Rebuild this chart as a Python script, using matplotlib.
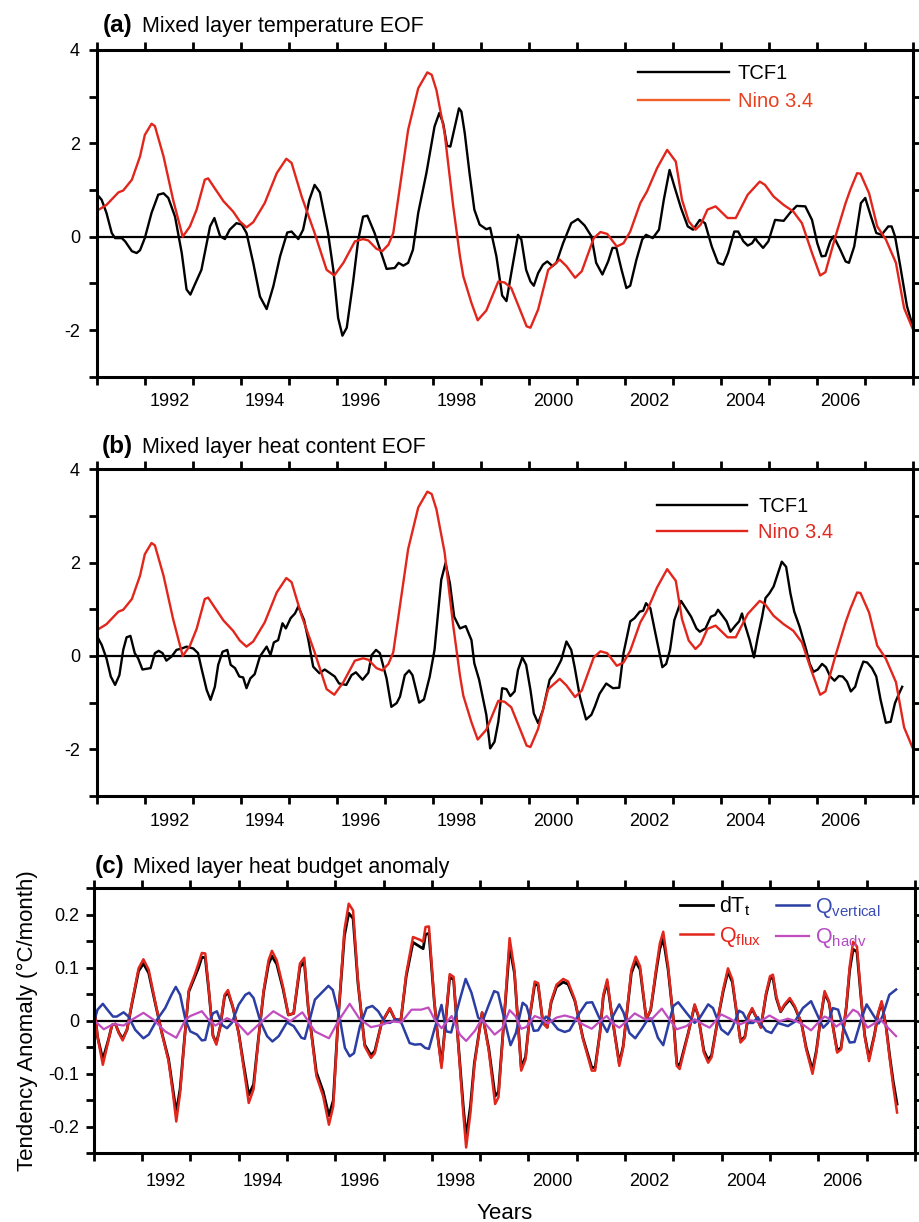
import numpy as np
import matplotlib
matplotlib.use('Agg')
import matplotlib.pyplot as plt

plt.rcParams['font.family'] = 'Liberation Sans'
plt.rcParams['mathtext.fontset'] = 'custom'
plt.rcParams['mathtext.rm'] = 'Liberation Sans'
plt.rcParams['mathtext.it'] = 'Liberation Sans:italic'

# ---- data (year, value) ----
nino34 = [(1991.00, 0.56), (1991.19, 0.68), (1991.44, 0.95), (1991.54, 0.99), (1991.72, 1.22),
          (1991.89, 1.72), (1991.99, 2.18), (1992.13, 2.42), (1992.20, 2.37), (1992.38, 1.72),
          (1992.58, 0.79), (1992.78, 0.00), (1992.93, 0.22), (1993.07, 0.58), (1993.24, 1.22),
          (1993.31, 1.25), (1993.42, 1.08), (1993.63, 0.76), (1993.83, 0.54), (1993.97, 0.33),
          (1994.11, 0.20), (1994.25, 0.31), (1994.49, 0.72), (1994.74, 1.36), (1994.94, 1.67),
          (1995.05, 1.58), (1995.26, 0.86), (1995.53, 0.08), (1995.78, -0.71), (1995.94, -0.83),
          (1996.13, -0.56), (1996.37, -0.10), (1996.54, -0.05), (1996.65, -0.08), (1996.82, -0.26),
          (1996.94, -0.31), (1997.07, -0.17), (1997.17, 0.08), (1997.31, 1.08), (1997.48, 2.29),
          (1997.69, 3.18), (1997.88, 3.52), (1997.97, 3.47), (1998.07, 3.14), (1998.24, 2.22),
          (1998.42, 0.65), (1998.56, -0.42), (1998.63, -0.85), (1998.80, -1.42), (1998.93, -1.79),
          (1999.11, -1.58), (1999.36, -0.96), (1999.49, -0.98), (1999.63, -1.10), (1999.81, -1.56),
          (1999.95, -1.92), (2000.03, -1.95), (2000.19, -1.56), (2000.40, -0.71), (2000.64, -0.49),
          (2000.78, -0.63), (2000.96, -0.88), (2001.10, -0.74), (2001.35, -0.03), (2001.49, 0.10),
          (2001.63, 0.06), (2001.83, -0.21), (2001.97, -0.14), (2002.11, 0.11), (2002.32, 0.72),
          (2002.46, 0.97), (2002.67, 1.47), (2002.88, 1.86), (2003.06, 1.61), (2003.19, 0.79),
          (2003.33, 0.33), (2003.47, 0.15), (2003.58, 0.26), (2003.72, 0.58), (2003.89, 0.65),
          (2004.00, 0.54), (2004.14, 0.40), (2004.31, 0.40), (2004.56, 0.90), (2004.81, 1.18),
          (2004.92, 1.11), (2005.10, 0.86), (2005.31, 0.68), (2005.51, 0.54), (2005.69, 0.29),
          (2005.90, -0.35), (2006.07, -0.83), (2006.18, -0.76), (2006.39, 0.01), (2006.60, 0.72),
          (2006.70, 1.01), (2006.84, 1.36), (2006.91, 1.35), (2007.09, 0.93), (2007.26, 0.22),
          (2007.44, -0.06), (2007.65, -0.56), (2007.82, -1.53), (2007.99, -1.95)]

tcf1_temp = [(1991.00, 0.90), (1991.09, 0.79), (1991.19, 0.51), (1991.30, 0.08), (1991.37, -0.03),
             (1991.51, -0.03), (1991.58, -0.10), (1991.72, -0.31), (1991.82, -0.35), (1991.89, -0.29),
             (1991.99, -0.03), (1992.13, 0.51), (1992.27, 0.90), (1992.38, 0.93), (1992.48, 0.83),
             (1992.62, 0.43), (1992.76, -0.35), (1992.86, -1.13), (1992.94, -1.24), (1993.03, -1.03),
             (1993.17, -0.71), (1993.24, -0.35), (1993.35, 0.22), (1993.44, 0.40), (1993.56, 0.01),
             (1993.66, -0.05), (1993.76, 0.15), (1993.90, 0.29), (1994.01, 0.26), (1994.11, 0.08),
             (1994.25, -0.56), (1994.39, -1.28), (1994.53, -1.55), (1994.67, -1.06), (1994.81, -0.42),
             (1994.96, 0.09), (1995.05, 0.11), (1995.19, -0.05), (1995.29, 0.15), (1995.42, 0.79),
             (1995.53, 1.11), (1995.64, 0.95), (1995.81, 0.08), (1995.92, -0.71), (1996.02, -1.74),
             (1996.11, -2.12), (1996.20, -1.95), (1996.33, -0.99), (1996.44, -0.06), (1996.54, 0.43),
             (1996.63, 0.45), (1996.78, 0.08), (1996.92, -0.35), (1997.03, -0.69), (1997.20, -0.67),
             (1997.28, -0.56), (1997.38, -0.62), (1997.48, -0.56), (1997.58, -0.28), (1997.69, 0.51),
             (1997.86, 1.36), (1998.03, 2.36), (1998.13, 2.65), (1998.21, 2.43), (1998.29, 1.95),
             (1998.36, 1.93), (1998.54, 2.75), (1998.59, 2.68), (1998.66, 2.22), (1998.76, 1.36),
             (1998.86, 0.58), (1998.97, 0.26), (1999.11, 0.16), (1999.19, 0.19), (1999.32, -0.42),
             (1999.44, -1.26), (1999.53, -1.38), (1999.63, -0.78), (1999.77, 0.04), (1999.84, -0.06),
             (1999.94, -0.71), (2000.03, -0.96), (2000.10, -1.05), (2000.19, -0.78), (2000.29, -0.60),
             (2000.38, -0.53), (2000.49, -0.63), (2000.57, -0.56), (2000.71, -0.14), (2000.88, 0.29),
             (2001.02, 0.38), (2001.16, 0.24), (2001.30, 0.01), (2001.40, -0.56), (2001.53, -0.81),
             (2001.65, -0.53), (2001.74, -0.24), (2001.82, -0.24), (2001.93, -0.71), (2002.03, -1.10),
             (2002.11, -1.05), (2002.24, -0.49), (2002.36, -0.06), (2002.44, 0.04), (2002.58, -0.03),
             (2002.71, 0.15), (2002.81, 0.79), (2002.93, 1.43), (2003.03, 1.08), (2003.17, 0.61),
             (2003.31, 0.22), (2003.42, 0.15), (2003.56, 0.36), (2003.67, 0.29), (2003.81, -0.21),
             (2003.94, -0.56), (2004.05, -0.60), (2004.15, -0.35), (2004.28, 0.11), (2004.36, 0.11),
             (2004.47, -0.10), (2004.56, -0.19), (2004.65, -0.14), (2004.72, -0.03), (2004.76, -0.10),
             (2004.88, -0.24), (2004.99, -0.10), (2005.13, 0.36), (2005.31, 0.34), (2005.45, 0.52),
             (2005.58, 0.66), (2005.76, 0.65), (2005.90, 0.36), (2006.01, -0.14), (2006.10, -0.42),
             (2006.18, -0.41), (2006.28, -0.10), (2006.35, 0.01), (2006.49, -0.28), (2006.60, -0.53),
             (2006.67, -0.56), (2006.78, -0.21), (2006.92, 0.72), (2007.01, 0.83), (2007.13, 0.43),
             (2007.24, 0.08), (2007.35, 0.04), (2007.49, 0.22), (2007.56, 0.22), (2007.63, 0.01),
             (2007.74, -0.63), (2007.88, -1.49), (2007.99, -1.88)]

tcf1_heat = [(1991.00, 0.41), (1991.09, 0.24), (1991.19, -0.05), (1991.28, -0.44), (1991.37, -0.62),
             (1991.46, -0.41), (1991.54, 0.13), (1991.61, 0.40), (1991.69, 0.43), (1991.78, 0.06),
             (1991.85, -0.05), (1991.94, -0.29), (1992.11, -0.26), (1992.20, 0.06), (1992.28, 0.11),
             (1992.36, 0.06), (1992.44, -0.10), (1992.55, -0.01), (1992.65, 0.13), (1992.76, 0.16),
             (1992.86, 0.20), (1993.00, 0.16), (1993.10, 0.06), (1993.17, -0.26), (1993.28, -0.73),
             (1993.36, -0.94), (1993.45, -0.66), (1993.52, -0.19), (1993.61, 0.09), (1993.71, 0.13),
             (1993.78, -0.19), (1993.87, -0.26), (1993.96, -0.44), (1994.04, -0.46), (1994.11, -0.69),
             (1994.19, -0.48), (1994.28, -0.39), (1994.39, -0.01), (1994.53, 0.20), (1994.61, 0.02),
             (1994.68, 0.29), (1994.77, 0.34), (1994.86, 0.70), (1994.93, 0.59), (1995.03, 0.81),
             (1995.12, 0.91), (1995.19, 1.06), (1995.31, 0.77), (1995.40, 0.34), (1995.50, -0.23),
             (1995.63, -0.37), (1995.74, -0.29), (1995.85, -0.37), (1995.95, -0.44), (1996.04, -0.59),
             (1996.19, -0.62), (1996.30, -0.41), (1996.39, -0.35), (1996.53, -0.51), (1996.65, -0.36),
             (1996.72, 0.02), (1996.81, 0.13), (1996.89, 0.06), (1997.03, -0.48), (1997.13, -1.09),
             (1997.24, -1.01), (1997.31, -0.87), (1997.41, -0.41), (1997.50, -0.31), (1997.57, -0.41),
             (1997.71, -1.00), (1997.81, -0.93), (1997.93, -0.44), (1998.03, 0.13), (1998.17, 1.63),
             (1998.26, 1.99), (1998.35, 1.56), (1998.44, 0.84), (1998.56, 0.59), (1998.68, 0.64),
             (1998.80, 0.34), (1998.86, -0.16), (1998.96, -0.51), (1999.11, -1.26), (1999.19, -1.98),
             (1999.28, -1.84), (1999.36, -1.41), (1999.44, -0.69), (1999.53, -0.71), (1999.61, -0.86),
             (1999.70, -0.76), (1999.77, -0.30), (1999.86, -0.03), (1999.94, -0.19), (2000.03, -0.73),
             (2000.10, -1.23), (2000.19, -1.44), (2000.29, -1.16), (2000.43, -0.51), (2000.53, -0.37),
             (2000.67, -0.09), (2000.78, 0.31), (2000.88, 0.13), (2000.95, -0.23), (2001.06, -0.87),
             (2001.19, -1.36), (2001.30, -1.26), (2001.37, -1.09), (2001.47, -0.81), (2001.61, -0.59),
             (2001.75, -0.69), (2001.88, -0.68), (2001.97, 0.06), (2002.11, 0.74), (2002.20, 0.81),
             (2002.31, 0.95), (2002.38, 0.97), (2002.44, 1.13), (2002.53, 1.02), (2002.62, 0.56),
             (2002.78, -0.24), (2002.86, -0.17), (2002.94, 0.13), (2003.03, 0.77), (2003.17, 1.18),
             (2003.28, 1.00), (2003.38, 0.84), (2003.49, 0.59), (2003.56, 0.52), (2003.68, 0.59),
             (2003.79, 0.84), (2003.88, 0.88), (2003.94, 0.99), (2004.05, 0.84), (2004.12, 0.74),
             (2004.20, 0.52), (2004.31, 0.66), (2004.38, 0.74), (2004.44, 0.91), (2004.49, 0.71),
             (2004.60, 0.34), (2004.69, -0.03), (2004.77, 0.41), (2004.86, 0.84), (2004.93, 1.24),
             (2005.01, 1.34), (2005.10, 1.49), (2005.19, 1.77), (2005.27, 2.02), (2005.36, 1.91),
             (2005.45, 1.34), (2005.53, 0.95), (2005.64, 0.63), (2005.78, 0.13), (2005.85, -0.16),
             (2005.93, -0.34), (2006.02, -0.29), (2006.11, -0.17), (2006.19, -0.24), (2006.28, -0.44),
             (2006.37, -0.53), (2006.46, -0.43), (2006.54, -0.44), (2006.63, -0.55), (2006.71, -0.76),
             (2006.80, -0.66), (2006.88, -0.37), (2006.97, -0.12), (2007.05, -0.14), (2007.15, -0.26),
             (2007.24, -0.44), (2007.33, -0.94), (2007.44, -1.43), (2007.54, -1.41), (2007.63, -1.01),
             (2007.70, -0.84), (2007.78, -0.66)]

q_flux = [(1991.00, 0.040), (1991.08, -0.030), (1991.19, -0.083), (1991.31, -0.036), (1991.38, -0.008),
          (1991.45, -0.006), (1991.52, -0.023), (1991.60, -0.037), (1991.69, -0.017), (1991.79, 0.033),
          (1991.93, 0.099), (1992.03, 0.116), (1992.14, 0.096), (1992.28, 0.033), (1992.41, -0.023),
          (1992.55, -0.076), (1992.64, -0.136), (1992.71, -0.190), (1992.79, -0.136), (1992.88, -0.036),
          (1992.97, 0.058), (1993.10, 0.089), (1993.17, 0.108), (1993.24, 0.128), (1993.31, 0.127),
          (1993.38, 0.064), (1993.47, -0.029), (1993.54, -0.045), (1993.62, -0.011), (1993.71, 0.049),
          (1993.78, 0.058), (1993.88, 0.027), (1994.00, -0.023), (1994.10, -0.086), (1994.21, -0.155),
          (1994.31, -0.129), (1994.41, -0.036), (1994.52, 0.058), (1994.62, 0.114), (1994.69, 0.132),
          (1994.79, 0.114), (1994.92, 0.064), (1995.03, 0.011), (1995.14, 0.014), (1995.27, 0.108),
          (1995.36, 0.119), (1995.44, 0.027), (1995.61, -0.104), (1995.75, -0.142), (1995.87, -0.196),
          (1995.96, -0.161), (1996.06, 0.002), (1996.19, 0.171), (1996.28, 0.221), (1996.37, 0.208),
          (1996.47, 0.077), (1996.61, -0.048), (1996.74, -0.070), (1996.82, -0.061), (1996.96, -0.004),
          (1997.13, 0.024), (1997.24, 0.002), (1997.36, 0.002), (1997.47, 0.089), (1997.61, 0.158),
          (1997.75, 0.153), (1997.82, 0.149), (1997.87, 0.177), (1997.94, 0.178), (1998.05, 0.039),
          (1998.12, -0.029), (1998.20, -0.089), (1998.30, 0.014), (1998.37, 0.088), (1998.45, 0.083),
          (1998.54, -0.036), (1998.65, -0.173), (1998.71, -0.239), (1998.80, -0.173), (1998.88, -0.085),
          (1999.04, 0.016), (1999.18, -0.057), (1999.31, -0.157), (1999.38, -0.144), (1999.47, -0.029),
          (1999.61, 0.156), (1999.71, 0.096), (1999.85, -0.094), (1999.94, -0.073), (2000.02, 0.003),
          (2000.13, 0.074), (2000.20, 0.071), (2000.30, -0.004), (2000.39, -0.013), (2000.47, 0.037),
          (2000.58, 0.068), (2000.72, 0.079), (2000.82, 0.074), (2000.96, 0.040), (2001.13, -0.035),
          (2001.31, -0.094), (2001.38, -0.094), (2001.48, -0.023), (2001.55, 0.049), (2001.63, 0.078),
          (2001.72, 0.015), (2001.88, -0.085), (2001.96, -0.051), (2002.13, 0.096), (2002.22, 0.121),
          (2002.31, 0.103), (2002.44, 0.003), (2002.53, 0.021), (2002.65, 0.103), (2002.72, 0.146),
          (2002.79, 0.168), (2002.89, 0.103), (2003.00, 0.003), (2003.07, -0.085), (2003.13, -0.091),
          (2003.31, -0.023), (2003.44, 0.031), (2003.51, 0.012), (2003.63, -0.060), (2003.72, -0.079),
          (2003.79, -0.069), (2003.92, 0.003), (2004.03, 0.059), (2004.13, 0.099), (2004.22, 0.078),
          (2004.31, 0.015), (2004.39, -0.041), (2004.48, -0.032), (2004.55, 0.009), (2004.63, 0.024),
          (2004.72, 0.006), (2004.81, -0.013), (2004.92, 0.053), (2005.00, 0.084), (2005.06, 0.087),
          (2005.13, 0.046), (2005.22, 0.018), (2005.30, 0.031), (2005.41, 0.043), (2005.51, 0.028),
          (2005.65, -0.004), (2005.75, -0.054), (2005.88, -0.100), (2005.96, -0.060), (2006.05, 0.006),
          (2006.13, 0.056), (2006.22, 0.037), (2006.30, -0.010), (2006.39, -0.060), (2006.47, -0.054),
          (2006.58, 0.028), (2006.65, 0.103), (2006.72, 0.149), (2006.80, 0.140), (2006.89, 0.040),
          (2006.96, -0.029), (2007.05, -0.076), (2007.16, -0.029), (2007.24, 0.015), (2007.31, 0.037),
          (2007.40, -0.010), (2007.48, -0.073), (2007.55, -0.123), (2007.63, -0.173)]

dT_t = [(1991.00, 0.035), (1991.08, -0.030), (1991.19, -0.073), (1991.31, -0.034), (1991.38, -0.008),
        (1991.45, -0.006), (1991.52, -0.022), (1991.60, -0.034), (1991.69, -0.017), (1991.79, 0.031),
        (1991.93, 0.094), (1992.03, 0.108), (1992.14, 0.090), (1992.28, 0.031), (1992.41, -0.022),
        (1992.55, -0.072), (1992.64, -0.128), (1992.71, -0.173), (1992.79, -0.128), (1992.88, -0.034),
        (1992.97, 0.055), (1993.10, 0.084), (1993.17, 0.100), (1993.24, 0.120), (1993.31, 0.119),
        (1993.38, 0.060), (1993.47, -0.028), (1993.54, -0.042), (1993.62, -0.011), (1993.71, 0.046),
        (1993.78, 0.054), (1993.88, 0.026), (1994.00, -0.022), (1994.10, -0.080), (1994.21, -0.140),
        (1994.31, -0.120), (1994.41, -0.034), (1994.52, 0.055), (1994.62, 0.107), (1994.69, 0.122),
        (1994.79, 0.107), (1994.92, 0.060), (1995.03, 0.011), (1995.14, 0.014), (1995.27, 0.101),
        (1995.36, 0.111), (1995.44, 0.026), (1995.61, -0.097), (1995.75, -0.133), (1995.87, -0.179),
        (1995.96, -0.150), (1996.06, 0.002), (1996.19, 0.160), (1996.28, 0.203), (1996.37, 0.193),
        (1996.47, 0.072), (1996.61, -0.045), (1996.74, -0.065), (1996.82, -0.057), (1996.96, -0.004),
        (1997.13, 0.023), (1997.24, 0.002), (1997.36, 0.002), (1997.47, 0.084), (1997.61, 0.148),
        (1997.75, 0.140), (1997.82, 0.136), (1997.87, 0.163), (1997.94, 0.165), (1998.05, 0.037),
        (1998.12, -0.027), (1998.20, -0.083), (1998.30, 0.013), (1998.37, 0.082), (1998.45, 0.078),
        (1998.54, -0.034), (1998.65, -0.160), (1998.71, -0.220), (1998.80, -0.160), (1998.88, -0.080),
        (1999.04, 0.015), (1999.18, -0.053), (1999.31, -0.142), (1999.38, -0.134), (1999.47, -0.027),
        (1999.61, 0.140), (1999.71, 0.090), (1999.85, -0.088), (1999.94, -0.068), (2000.02, 0.003),
        (2000.13, 0.069), (2000.20, 0.067), (2000.30, -0.004), (2000.39, -0.012), (2000.47, 0.035),
        (2000.58, 0.064), (2000.72, 0.073), (2000.82, 0.069), (2000.96, 0.038), (2001.13, -0.033),
        (2001.31, -0.088), (2001.38, -0.088), (2001.48, -0.022), (2001.55, 0.046), (2001.63, 0.073),
        (2001.72, 0.014), (2001.88, -0.080), (2001.96, -0.048), (2002.13, 0.090), (2002.22, 0.112),
        (2002.31, 0.097), (2002.44, 0.003), (2002.53, 0.020), (2002.65, 0.097), (2002.72, 0.136),
        (2002.79, 0.155), (2002.89, 0.097), (2003.00, 0.003), (2003.07, -0.080), (2003.13, -0.085),
        (2003.31, -0.022), (2003.44, 0.029), (2003.51, 0.011), (2003.63, -0.056), (2003.72, -0.074),
        (2003.79, -0.065), (2003.92, 0.003), (2004.03, 0.055), (2004.13, 0.093), (2004.22, 0.073),
        (2004.31, 0.014), (2004.39, -0.038), (2004.48, -0.030), (2004.55, 0.008), (2004.63, 0.022),
        (2004.72, 0.006), (2004.81, -0.012), (2004.92, 0.050), (2005.00, 0.079), (2005.06, 0.082),
        (2005.13, 0.043), (2005.22, 0.017), (2005.30, 0.029), (2005.41, 0.040), (2005.51, 0.026),
        (2005.65, -0.004), (2005.75, -0.051), (2005.88, -0.093), (2005.96, -0.056), (2006.05, 0.006),
        (2006.13, 0.052), (2006.22, 0.035), (2006.30, -0.009), (2006.39, -0.056), (2006.47, -0.051),
        (2006.58, 0.026), (2006.65, 0.096), (2006.72, 0.135), (2006.80, 0.130), (2006.89, 0.037),
        (2006.96, -0.027), (2007.05, -0.071), (2007.16, -0.027), (2007.24, 0.014), (2007.31, 0.034),
        (2007.40, -0.009), (2007.48, -0.068), (2007.55, -0.114), (2007.63, -0.157)]

q_vertical = [(1991.00, -0.004), (1991.08, 0.021), (1991.19, 0.032), (1991.31, 0.018), (1991.40, 0.008),
              (1991.48, 0.008), (1991.62, 0.016), (1991.72, 0.008), (1991.86, -0.017), (1992.03, -0.033),
              (1992.14, -0.026), (1992.31, 0.002), (1992.48, 0.024), (1992.61, 0.049), (1992.70, 0.064),
              (1992.79, 0.049), (1992.90, 0.002), (1993.00, -0.020), (1993.14, -0.026), (1993.24, -0.037),
              (1993.31, -0.036), (1993.40, -0.001), (1993.47, 0.014), (1993.55, 0.018), (1993.66, -0.008),
              (1993.76, -0.014), (1993.86, -0.004), (1994.00, 0.030), (1994.14, 0.049), (1994.22, 0.053),
              (1994.31, 0.043), (1994.45, -0.001), (1994.59, -0.029), (1994.70, -0.039), (1994.83, -0.029),
              (1995.00, -0.003), (1995.14, -0.010), (1995.30, -0.032), (1995.37, -0.034), (1995.58, 0.040),
              (1995.86, 0.066), (1995.95, 0.058), (1996.10, 0.002), (1996.20, -0.051), (1996.30, -0.067),
              (1996.39, -0.061), (1996.51, -0.011), (1996.65, 0.024), (1996.77, 0.028), (1996.89, 0.018),
              (1997.03, -0.003), (1997.13, -0.004), (1997.27, 0.003), (1997.37, -0.004), (1997.54, -0.042),
              (1997.65, -0.045), (1997.77, -0.044), (1997.86, -0.051), (1997.94, -0.053), (1998.05, -0.017),
              (1998.20, 0.030), (1998.30, -0.020), (1998.40, -0.022), (1998.58, 0.040), (1998.70, 0.079),
              (1998.82, 0.053), (1998.96, 0.006), (1999.05, -0.001), (1999.17, 0.028), (1999.29, 0.056),
              (1999.37, 0.053), (1999.51, -0.001), (1999.63, -0.046), (1999.74, -0.023), (1999.88, 0.034),
              (1999.96, 0.028), (2000.11, -0.019), (2000.20, -0.018), (2000.36, 0.008), (2000.44, 0.003),
              (2000.61, -0.016), (2000.75, -0.021), (2000.85, -0.018), (2001.06, 0.015), (2001.20, 0.034),
              (2001.32, 0.035), (2001.48, 0.003), (2001.63, -0.021), (2001.75, 0.009), (2001.88, 0.031),
              (2001.97, 0.015), (2002.09, -0.023), (2002.21, -0.033), (2002.34, -0.016), (2002.48, 0.004),
              (2002.55, 0.004), (2002.68, -0.032), (2002.79, -0.046), (2002.89, -0.010), (2003.00, 0.028),
              (2003.10, 0.035), (2003.27, 0.015), (2003.44, -0.004), (2003.55, 0.006), (2003.72, 0.031),
              (2003.82, 0.024), (2003.99, -0.016), (2004.13, -0.026), (2004.22, -0.013), (2004.36, 0.019),
              (2004.44, 0.015), (2004.55, -0.004), (2004.65, -0.004), (2004.75, 0.007), (2004.82, -0.007),
              (2004.92, -0.019), (2005.03, -0.023), (2005.16, -0.004), (2005.37, -0.010), (2005.51, -0.002),
              (2005.68, 0.024), (2005.85, 0.037), (2005.96, 0.015), (2006.10, -0.013), (2006.20, -0.004),
              (2006.30, 0.024), (2006.41, 0.021), (2006.51, -0.010), (2006.65, -0.041), (2006.75, -0.040),
              (2006.89, 0.003), (2007.00, 0.031), (2007.13, 0.012), (2007.25, -0.005), (2007.33, 0.009),
              (2007.47, 0.049), (2007.61, 0.059)]

q_hadv = [(1991.00, 0.002), (1991.21, -0.016), (1991.41, -0.006), (1991.62, -0.009), (1991.79, 0.002),
          (1992.03, 0.015), (1992.24, 0.002), (1992.48, -0.020), (1992.71, -0.032), (1992.90, 0.002),
          (1993.00, 0.009), (1993.24, 0.018), (1993.38, 0.002), (1993.52, -0.009), (1993.76, 0.005),
          (1993.97, -0.004), (1994.19, -0.026), (1994.52, 0.002), (1994.72, 0.018), (1995.07, -0.001),
          (1995.32, 0.016), (1995.58, -0.020), (1995.87, -0.033), (1996.06, -0.001), (1996.30, 0.032),
          (1996.50, 0.004), (1996.74, -0.012), (1996.95, -0.008), (1997.17, -0.001), (1997.37, -0.003),
          (1997.58, 0.021), (1997.78, 0.021), (1997.93, 0.025), (1998.06, 0.002), (1998.20, -0.014),
          (1998.41, 0.009), (1998.58, -0.026), (1998.71, -0.038), (1998.89, -0.019), (1999.03, 0.003),
          (1999.15, -0.010), (1999.30, -0.026), (1999.45, -0.015), (1999.61, 0.020), (1999.73, 0.009),
          (1999.85, -0.015), (1999.95, -0.012), (2000.13, 0.009), (2000.27, 0.004), (2000.40, -0.005),
          (2000.58, 0.006), (2000.75, 0.010), (2000.92, 0.006), (2001.13, -0.007), (2001.31, -0.015),
          (2001.48, -0.001), (2001.62, 0.009), (2001.75, -0.005), (2001.88, -0.013), (2002.03, -0.001),
          (2002.20, 0.014), (2002.41, 0.003), (2002.55, 0.003), (2002.76, 0.023), (2002.89, 0.006),
          (2003.07, -0.016), (2003.27, -0.010), (2003.44, 0.003), (2003.62, -0.007), (2003.75, -0.013),
          (2003.99, 0.012), (2004.17, 0.004), (2004.37, -0.007), (2004.58, 0.001), (2004.78, -0.002),
          (2004.99, 0.010), (2005.20, -0.001), (2005.37, 0.004), (2005.55, -0.001), (2005.68, -0.007),
          (2005.85, -0.018), (2005.99, -0.004), (2006.13, 0.008), (2006.23, 0.004), (2006.37, -0.011),
          (2006.52, -0.001), (2006.72, 0.021), (2006.82, 0.016), (2007.02, -0.013), (2007.16, -0.005),
          (2007.28, 0.003), (2007.44, -0.013), (2007.61, -0.029)]

label_years = [1992, 1994, 1996, 1998, 2000, 2002, 2004, 2006]

RED = '#e2261c'
BLUE = '#2b3ea3'
MAG = '#c04cbf'


def xy(series):
    t, v = zip(*series)
    return np.array(t), np.array(v)


def style_axis(ax, ymin, ymax, yticks, ylabels, xpad, ypad):
    ax.set_xlim(1991, 2008)
    ax.set_ylim(ymin, ymax)
    for s in ax.spines.values():
        s.set_linewidth(2.2)
    ax.set_xticks(np.arange(1991, 2009))
    ax.set_xticklabels([])
    ax.set_xticks([y + 0.5 for y in label_years], minor=True)
    ax.set_xticklabels([str(y) for y in label_years], minor=True)
    ax.set_yticks(yticks)
    ax.set_yticklabels(ylabels)
    ax.tick_params(axis='both', which='major', direction='out', length=5.5, width=2,
                   top=True, right=True, labelsize=13)
    ax.tick_params(axis='x', which='minor', length=0, pad=xpad, labelsize=13)
    ax.tick_params(axis='y', which='major', pad=ypad)
    ax.axhline(0, color='k', lw=1.6, zorder=1)


fig = plt.figure(figsize=(9.2, 12.22), dpi=100)

# (a)
ax = fig.add_axes([0.1058, 0.6917, 0.8863, 0.2674])
t, v = xy(tcf1_temp)
ax.plot(t, v, color='k', lw=1.7, label='TCF1')
t, v = xy(nino34)
ax.plot(t, v, color=RED, lw=1.7, label='Nino 3.4')
style_axis(ax, -3, 4, np.arange(-3, 5), ['', '-2', '', '0', '', '2', '', '4'], 12, 7)
leg = ax.legend(loc='upper left', bbox_to_anchor=(0.663, 0.957), frameon=False, fontsize=14.5,
                handlelength=4.5, handletextpad=0.45, labelspacing=0.45, borderpad=0, borderaxespad=0,
                labelcolor=['k', '#e8401f'])
leg.get_lines()[1].set_color('#f0602c')
ax.text(0.007, 1.056, '(a)', transform=ax.transAxes, fontsize=17.5, fontweight='bold')
ax.text(0.0545, 1.056, 'Mixed layer temperature EOF', transform=ax.transAxes, fontsize=15.5)

# (b)
ax = fig.add_axes([0.1058, 0.3486, 0.8863, 0.2674])
t, v = xy(tcf1_heat)
ax.plot(t, v, color='k', lw=1.7, label='TCF1')
t, v = xy(nino34)
ax.plot(t, v, color=RED, lw=1.7, label='Nino 3.4')
style_axis(ax, -3, 4, np.arange(-3, 5), ['', '-2', '', '0', '', '2', '', '4'], 12, 7)
ax.legend(loc='upper left', bbox_to_anchor=(0.686, 0.916), frameon=False, fontsize=14.5,
          handlelength=4.5, handletextpad=0.55, labelspacing=0.38, borderpad=0, borderaxespad=0,
          labelcolor=['k', '#e02a22'])
ax.text(0.0054, 1.049, '(b)', transform=ax.transAxes, fontsize=17.5, fontweight='bold')
ax.text(0.0545, 1.049, 'Mixed layer heat content EOF', transform=ax.transAxes, fontsize=15.5)

# (c)
ax = fig.add_axes([0.1018, 0.0562, 0.8927, 0.2169])
t, v = xy(dT_t)
ax.plot(t, v, color='k', lw=2.0, label=r'dT$_\mathregular{t}$')
t, v = xy(q_flux)
ax.plot(t, v, color=RED, lw=1.8, label=r'Q$_\mathregular{flux}$')
t, v = xy(q_vertical)
ax.plot(t, v, color=BLUE, lw=1.8, label=r'Q$_\mathregular{vertical}$')
t, v = xy(q_hadv)
ax.plot(t, v, color=MAG, lw=1.6, label=r'Q$_\mathregular{hadv}$')
style_axis(ax, -0.25, 0.25, np.arange(-0.25, 0.2501, 0.05),
           ['', '-0.2', '', '-0.1', '', '0', '', '0.1', '', '0.2', ''], 14, 5)
ax.legend(loc='upper left', bbox_to_anchor=(0.714, 0.975), frameon=False, fontsize=15.5, ncol=2,
          handlelength=1.55, handletextpad=0.25, labelspacing=0.3, columnspacing=0.7,
          borderpad=0, borderaxespad=0, labelcolor=['k', '#e8241c', '#3a4cb4', '#b44cc4'])
ax.text(0.001, 1.059, '(c)', transform=ax.transAxes, fontsize=17.5, fontweight='bold')
ax.text(0.048, 1.059, 'Mixed layer heat budget anomaly', transform=ax.transAxes, fontsize=15.5)

fig.text(27 / 920, 1 - 1021 / 1222, 'Tendency Anomaly (\u00b0C/month)', rotation=90,
         ha='center', va='center', fontsize=16)
fig.text(505 / 920, 1 - 1219 / 1222, 'Years', ha='center', va='baseline', fontsize=16)

fig.savefig('out.png', dpi=100)
